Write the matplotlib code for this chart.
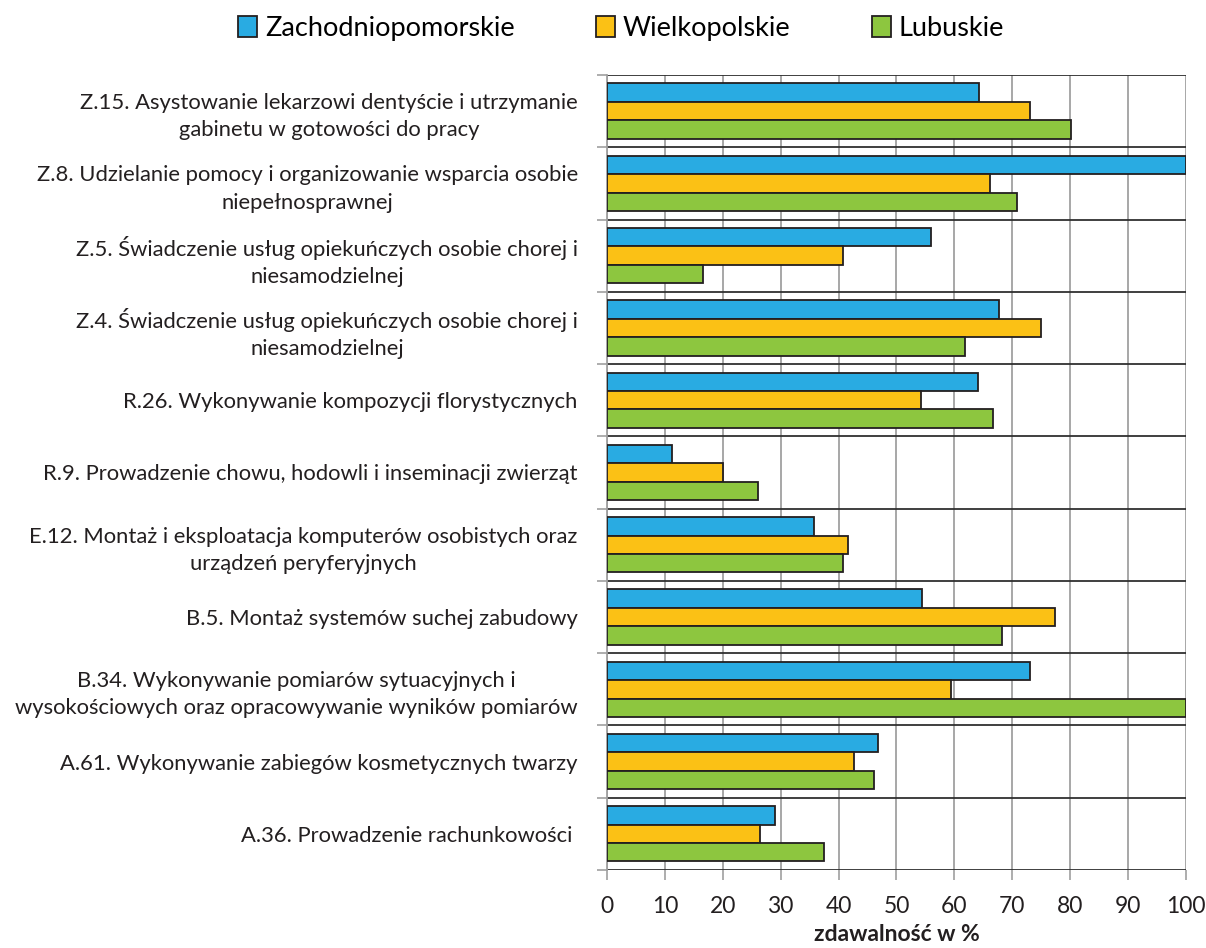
import numpy as np
import matplotlib.pyplot as plt

plt.rcParams['font.family'] = ['Lato', 'DejaVu Sans']

# categories, top to bottom as in the chart
categories = [
    'Z.15. Asystowanie lekarzowi dentyście i utrzymanie\ngabinetu w gotowości do pracy',
    'Z.8. Udzielanie pomocy i organizowanie wsparcia osobie\nniepełnosprawnej',
    'Z.5. Świadczenie usług opiekuńczych osobie chorej i\nniesamodzielnej',
    'Z.4. Świadczenie usług opiekuńczych osobie chorej i\nniesamodzielnej',
    'R.26. Wykonywanie kompozycji florystycznych',
    'R.9. Prowadzenie chowu, hodowli i inseminacji zwierząt',
    'E.12. Montaż i eksploatacja komputerów osobistych oraz\nurządzeń peryferyjnych',
    'B.5. Montaż systemów suchej zabudowy',
    'B.34. Wykonywanie pomiarów sytuacyjnych i\nwysokościowych oraz opracowywanie wyników pomiarów',
    'A.61. Wykonywanie zabiegów kosmetycznych twarzy',
    'A.36. Prowadzenie rachunkowości ',
]

series_names = ['Zachodniopomorskie', 'Wielkopolskie', 'Lubuskie']

zachodniopomorskie = [64.2, 100.0, 56.0, 67.7, 64.0, 11.3, 35.8, 54.4, 73.0, 46.8, 29.1]
wielkopolskie = [73.0, 66.1, 40.8, 75.0, 54.2, 20.0, 41.7, 77.3, 59.4, 42.6, 26.4]
lubuskie = [80.1, 70.9, 16.6, 61.9, 66.6, 26.0, 40.7, 68.3, 100.0, 46.2, 37.4]

colors = ['#29abe2', '#fbc115', '#8dc63f']

fig = plt.figure(figsize=(12.06, 9.48), dpi=100)
ax = fig.add_axes([0.5033, 0.0823, 0.4801, 0.8386])

n = len(categories)
y = np.arange(n)
h = 0.255
for i, (vals, name) in enumerate(zip([zachodniopomorskie, wielkopolskie, lubuskie], series_names)):
    ax.barh(y + (i - 1) * h, vals, height=h, color=colors[i], edgecolor='#231f20',
            linewidth=1.3, label=name, zorder=3)

ax.set_ylim(n - 0.5, -0.5)
ax.set_xlim(0, 100)

# gridlines: vertical grey, horizontal dark at category boundaries
ax.set_xticks(np.arange(0, 101, 10))
ax.set_yticks(np.arange(-0.5, n, 1.0))
ax.set_yticklabels([])
ax.set_yticks(y, minor=True)
ax.set_yticklabels(categories, minor=True)
for lbl in ax.get_yticklabels(minor=True):
    lbl.set_multialignment('center')
    lbl.set_linespacing(1.45)

ax.tick_params(axis='y', which='minor', length=0, pad=21, labelsize=15.8, labelcolor='#231f20')
ax.tick_params(axis='y', which='major', length=7, color='#a0a0a0', width=1.2)
ax.tick_params(axis='x', length=7, color='#a0a0a0', width=1.2, labelsize=16.5, pad=12,
               labelcolor='#231f20')

ax.grid(axis='x', color='#a0a0a0', linewidth=1.3, zorder=0)
ax.grid(axis='y', which='major', color='#303030', linewidth=1.3, zorder=1)

for s in ['top', 'right', 'bottom']:
    ax.spines[s].set_visible(False)
ax.spines['left'].set_color('#a0a0a0')
ax.spines['left'].set_linewidth(1.3)

ax.set_xlabel('zdawalność w %', fontsize=16.5, fontweight='bold', labelpad=5, color='#231f20')

fig.legend(loc='center', bbox_to_anchor=(0.515, 0.97), ncol=3, frameon=False, fontsize=19.5,
           handlelength=0.7, handleheight=0.85, handletextpad=0.3, columnspacing=3.0)

plt.savefig('out.png', dpi=100)
